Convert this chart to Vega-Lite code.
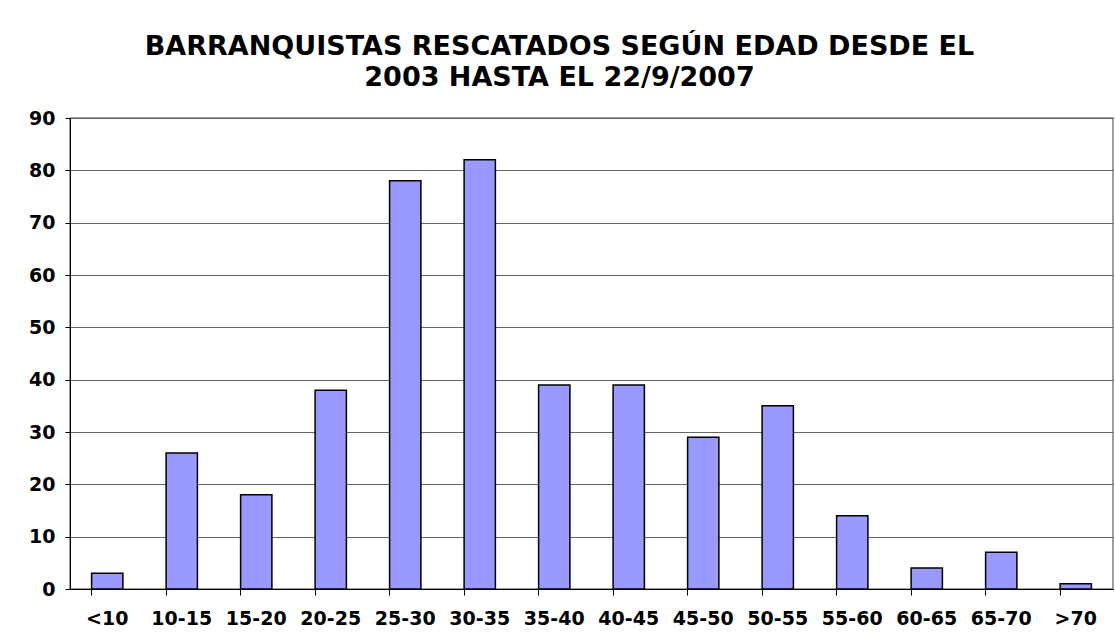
{
  "$schema": "https://vega.github.io/schema/vega-lite/v6.json",
  "width": 1043,
  "height": 471,
  "autosize": {"type": "none"},
  "padding": {"left": 70, "top": 118, "right": 2, "bottom": 55},
  "background": "white",
  "title": {
    "text": ["BARRANQUISTAS RESCATADOS SEGÚN EDAD DESDE EL", "2003 HASTA EL 22/9/2007"],
    "font": "DejaVu Sans",
    "fontWeight": "bold",
    "fontSize": 27,
    "lineHeight": 31,
    "color": "black",
    "anchor": "middle",
    "frame": "group",
    "dx": -32,
    "offset": 17
  },
  "data": {
    "values": [
      {"edad": "<10", "n": 3},
      {"edad": "10-15", "n": 26},
      {"edad": "15-20", "n": 18},
      {"edad": "20-25", "n": 38},
      {"edad": "25-30", "n": 78},
      {"edad": "30-35", "n": 82},
      {"edad": "35-40", "n": 39},
      {"edad": "40-45", "n": 39},
      {"edad": "45-50", "n": 29},
      {"edad": "50-55", "n": 35},
      {"edad": "55-60", "n": 14},
      {"edad": "60-65", "n": 4},
      {"edad": "65-70", "n": 7},
      {"edad": ">70", "n": 1}
    ]
  },
  "mark": {"type": "bar", "color": "#9999FF", "stroke": "black", "strokeWidth": 1.5},
  "encoding": {
    "x": {
      "field": "edad",
      "type": "ordinal",
      "sort": null,
      "scale": {"paddingInner": 0.58, "paddingOuter": 0.29},
      "axis": {
        "title": null,
        "labelAngle": 0,
        "labelFont": "DejaVu Sans",
        "labelFontWeight": "bold",
        "labelFontSize": 19,
        "labelColor": "black",
        "labelPadding": 14,
        "labelOverlap": false,
        "bandPosition": 0,
        "tickSize": 6,
        "tickColor": "black",
        "domainColor": "black",
        "grid": false
      }
    },
    "y": {
      "field": "n",
      "type": "quantitative",
      "scale": {"domain": [0, 90], "nice": false},
      "axis": {
        "title": null,
        "values": [0, 10, 20, 30, 40, 50, 60, 70, 80, 90],
        "labelFont": "DejaVu Sans",
        "labelFontWeight": "bold",
        "labelFontSize": 19,
        "labelColor": "black",
        "labelPadding": 10,
        "tickSize": 5,
        "tickColor": "black",
        "domainColor": "black",
        "grid": true,
        "gridColor": "#666666",
        "gridWidth": 1
      }
    }
  },
  "config": {
    "view": {"stroke": "#808080", "strokeWidth": 1.5}
  }
}
